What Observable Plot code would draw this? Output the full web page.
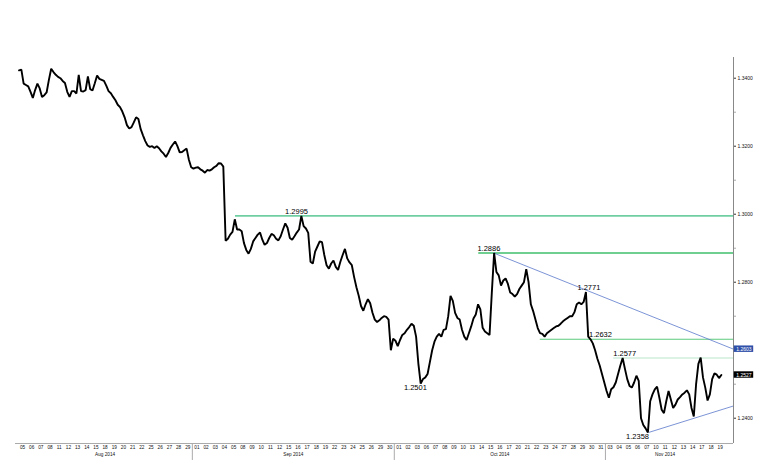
<!DOCTYPE html>
<html><head><meta charset="utf-8">
<script src="https://cdn.jsdelivr.net/npm/d3@7"></script>
<script src="https://cdn.jsdelivr.net/npm/@observablehq/plot@0.6"></script>
<style>body{margin:0;background:#fff}#chart{width:782px;height:467px}</style>
</head><body><div id="chart"></div>
<script>
// trading days shown on the x axis
const dayLabels = ["05","06","07","08","11","12","13","14","15","18","19","20","21","22","25","26","27","28","29",
  "01","02","03","04","05","08","09","10","11","12","15","16","17","18","19","22","23","24","25","26","29","30",
  "01","02","03","06","07","08","09","10","13","14","15","16","17","20","21","22","23","24","27","28","29","30","31",
  "03","04","05","06","07","10","11","12","13","14","17","18","19"];
const monthNames = ["Aug 2014","Sep 2014","Oct 2014","Nov 2014"];
const monthFirstDay = [0, 19, 41, 64];
const monthLastDay = [18, 40, 63, 76];

// EUR/USD, four readings per trading day
const intraday = [
  [1.3423,1.3425,1.3384,1.3380],[1.3376,1.3360,1.3342,1.3365],[1.3384,1.3370,1.3345,1.3350],
  [1.3358,1.3395,1.3428,1.3418],[1.3410,1.3404,1.3400,1.3392],[1.3386,1.3360,1.3345,1.3362],
  [1.3362,1.3355,1.3410,1.3362],[1.3361,1.3365,1.3405,1.3368],[1.3364,1.3385,1.3408,1.3398],
  [1.3395,1.3392,1.3378,1.3362],[1.3356,1.3345,1.3335,1.3322],[1.3315,1.3302,1.3285,1.3262],
  [1.3252,1.3256,1.3270,1.3285],[1.3280,1.3250,1.3232,1.3215],[1.3202,1.3198,1.3200,1.3195],
  [1.3200,1.3194,1.3185,1.3178],[1.3168,1.3180,1.3195,1.3205],[1.3214,1.3200,1.3182,1.3183],
  [1.3188,1.3193,1.3160,1.3138],
  [1.3134,1.3137,1.3138,1.3132],[1.3128,1.3122,1.3130,1.3128],[1.3132,1.3138,1.3142,1.3150],
  [1.3149,1.3140,1.2922,1.2928],[1.2940,1.2948,1.2985,1.2955],[1.2955,1.2950,1.2915,1.2895],
  [1.2884,1.2898,1.2920,1.2930],[1.2940,1.2946,1.2925,1.2910],[1.2915,1.2930,1.2942,1.2938],
  [1.2928,1.2923,1.2935,1.2955],[1.2973,1.2960,1.2930,1.2925],[1.2935,1.2946,1.2955,1.2995],
  [1.2965,1.2958,1.2945,1.2860],[1.2855,1.2890,1.2905,1.2920],[1.2918,1.2880,1.2850,1.2840],
  [1.2855,1.2864,1.2845,1.2836],[1.2860,1.2880,1.2898,1.2870],[1.2858,1.2850,1.2815,1.2785],
  [1.2760,1.2730,1.2716,1.2735],[1.2750,1.2738,1.2710,1.2690],[1.2683,1.2688,1.2695,1.2700],
  [1.2698,1.2690,1.2600,1.2634],
  [1.2628,1.2612,1.2630,1.2645],[1.2650,1.2660,1.2668,1.2678],[1.2672,1.2640,1.2560,1.2502],
  [1.2515,1.2520,1.2530,1.2565],[1.2600,1.2625,1.2640,1.2648],[1.2640,1.2660,1.2662,1.2700],
  [1.2760,1.2745,1.2710,1.2695],[1.2690,1.2660,1.2640,1.2630],[1.2650,1.2670,1.2693,1.2705],
  [1.2735,1.2720,1.2666,1.2655],[1.2650,1.2645,1.2770,1.2886],[1.2830,1.2820,1.2790,1.2805],
  [1.2811,1.2795,1.2770,1.2765],[1.2758,1.2765,1.2780,1.2790],[1.2800,1.2838,1.2800,1.2735],
  [1.2715,1.2690,1.2665,1.2650],[1.2648,1.2640,1.2650,1.2655],[1.2660,1.2665,1.2670,1.2672],
  [1.2678,1.2685,1.2690,1.2695],[1.2700,1.2700,1.2712,1.2735],[1.2740,1.2735,1.2742,1.2771],
  [1.2640,1.2632,1.2620,1.2600],[1.2575,1.2555,1.2530,1.2505],
  [1.2480,1.2460,1.2485,1.2491],[1.2505,1.2530,1.2555,1.2577],[1.2545,1.2515,1.2495,1.2490],
  [1.2505,1.2525,1.2510,1.2400],[1.2380,1.2370,1.2358,1.2450],[1.2470,1.2485,1.2493,1.2460],
  [1.2425,1.2415,1.2450,1.2480],[1.2455,1.2430,1.2440,1.2455],[1.2462,1.2470,1.2475,1.2482],
  [1.2470,1.2430,1.2405,1.2500],[1.2560,1.2578,1.2520,1.2490],[1.2452,1.2470,1.2515,1.2532],
  [1.2528,1.2518,1.2527]
];

// annotated levels
const annValues = [1.2995, 1.2886, 1.2771, 1.2632, 1.2577, 1.2501, 1.2358];
const annDay    = [29.85, 50.8, 61.7, 62.96, 65.6, 42.8, 67.0];
const annBelow  = [false, false, false, false, false, true, true];

// horizontal support / resistance lines
const levelValues = [1.2995, 1.2886, 1.2632, 1.2577];
const levelStartDay = [23.2, 49.7, 56.4, 64.4];
const levelColors = ["#6fcfa2", "#3fbf6c", "#5ccb7c", "#cfeedd"];
const levelWidths = [1.7, 1.4, 1.1, 1.6];

// trend lines: start day/value, value at the right edge
const trendStartDay = [51.31, 68.2];
const trendStartValue = [1.2886, 1.2358];
const trendEndValue = [1.2603, 1.2436];

// right axis
const majorTicks = [1.24, 1.28, 1.30, 1.32, 1.34];
const minorTicks = [1.25, 1.26, 1.27, 1.29, 1.31, 1.33];
const boxValues = [1.2603, 1.2527];
const boxColors = ["#2f4fa8", "#000000"];

const X_MIN = -0.7625, X_MAX = 77.45;
const Y_MIN = 1.23256, Y_MAX = 1.34609;

const series = intraday.flatMap((vals, i) => vals.map((v, k) => ({t: i - 0.375 + k * 0.25, price: v})));
const ann = annValues.map((v, i) => ({v, t: annDay[i], below: annBelow[i]}));
const levels = levelValues.map((v, i) => ({v, t: levelStartDay[i], color: levelColors[i], w: levelWidths[i]}));
const trends = trendStartDay.map((t, i) => ({t1: t, v1: trendStartValue[i], t2: X_MAX, v2: trendEndValue[i]}));
const boxes = boxValues.map((v, i) => ({v, color: boxColors[i]}));
const monthCenters = monthFirstDay.map((f, i) => (f + monthLastDay[i]) / 2);
const monthAt = new Map(monthCenters.map((c, i) => [c, monthNames[i]]));
const separators = monthFirstDay.slice(1).map(i => i - 0.5);

const fmt = d3.format(".4f");
const marks = [];
levels.forEach(l => marks.push(Plot.ruleY([l], {y: "v", x1: "t", x2: X_MAX, stroke: l.color, strokeWidth: l.w})));
marks.push(Plot.link(trends, {x1: "t1", y1: "v1", x2: "t2", y2: "v2", stroke: "#5a78cc", strokeWidth: 0.8}));
marks.push(Plot.line(series, {x: "t", y: "price", stroke: "#000", strokeWidth: 1.9, strokeLinejoin: "miter"}));
marks.push(Plot.text(ann.filter(d => !d.below), {x: "t", y: "v", text: d => fmt(d.v), lineAnchor: "bottom", dy: -2, fontSize: 7.5, fill: "#000"}));
marks.push(Plot.text(ann.filter(d => d.below), {x: "t", y: "v", text: d => fmt(d.v), lineAnchor: "top", dy: 1, fontSize: 7.5, fill: "#000"}));
marks.push(Plot.ruleX([X_MAX], {stroke: "#888", strokeWidth: 1}));
marks.push(Plot.ruleY([Y_MIN], {x1: X_MIN, x2: X_MAX, stroke: "#aaa", strokeWidth: 1}));
marks.push(Plot.axisY({anchor: "right", ticks: majorTicks, tickFormat: fmt, tickSize: 2, tickPadding: 2, fontSize: 5, stroke: "#333", fill: "#111"}));
marks.push(Plot.axisY({anchor: "right", ticks: minorTicks, tickFormat: () => "", tickSize: 2, stroke: "#aaa"}));
marks.push(Plot.axisX({anchor: "bottom", ticks: d3.range(dayLabels.length), tickFormat: i => dayLabels[i], tickSize: 0, tickPadding: 2, fontSize: 4.7, fill: "#111"}));
marks.push(Plot.axisX({anchor: "bottom", ticks: separators, tickFormat: () => "", tickSize: 17, stroke: "#aaa"}));
marks.push(Plot.axisX({anchor: "bottom", ticks: monthCenters, tickFormat: c => monthAt.get(c), tickSize: 0, tickPadding: 9, fontSize: 4.7, fill: "#111"}));
boxes.forEach(b => marks.push(Plot.rect([b], {x1: X_MAX + 0.08, x2: X_MAX + 2.2, y1: d => d.v - 0.00095, y2: d => d.v + 0.00095, fill: b.color})));
marks.push(Plot.text(boxes, {x: X_MAX + 1.14, y: "v", text: d => fmt(d.v), fill: "#fff", fontSize: 5}));

const chart = Plot.plot({
  width: 782, height: 467,
  marginLeft: 15, marginRight: 49, marginTop: 57, marginBottom: 24,
  style: {fontFamily: "'Liberation Sans', Arial, sans-serif", background: "#fff"},
  x: {domain: [X_MIN, X_MAX], axis: null},
  y: {domain: [Y_MIN, Y_MAX], axis: null},
  marks
});
document.getElementById("chart").appendChild(chart);
</script>
</body></html>
